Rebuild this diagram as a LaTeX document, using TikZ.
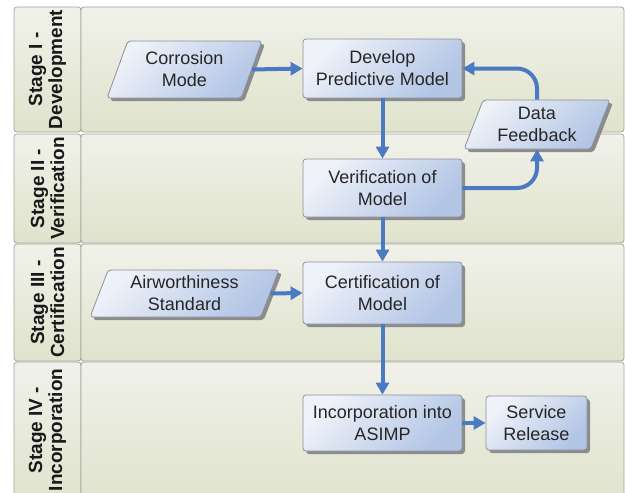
\documentclass[tikz,border=0pt]{standalone}
\usepackage{fontspec}
\setmainfont{Liberation Sans}
\usetikzlibrary{shapes.geometric,shadows,arrows.meta}
\definecolor{flow}{HTML}{4A7AC2}
\definecolor{boxlt}{HTML}{EFF2F9}
\definecolor{boxdk}{HTML}{B2C5E5}
\definecolor{boxedge}{HTML}{8C9098}
\definecolor{lanelt}{HTML}{F1F1EA}
\definecolor{lanedk}{HTML}{DFE3CC}
\definecolor{laneedge}{HTML}{A2A49E}
\begin{document}
\begin{tikzpicture}[x=1pt,y=-1pt,
  proc/.style={draw=boxedge, line width=0.8pt, rounded corners=3pt,
    top color=boxlt, bottom color=boxdk, shading angle=45,
    drop shadow={shadow xshift=3pt, shadow yshift=-3pt, fill=black!45, opacity=1},
    align=center, font=\fontsize{18}{22}\selectfont, text=black!85, inner sep=0pt},
  datan/.style={proc, shape=trapezium, trapezium stretches=true,
    trapezium left angle=68, trapezium right angle=112},
  lane/.style={draw=laneedge, line width=0.8pt, rounded corners=3pt,
    top color=lanelt, bottom color=lanedk},
  lanelabel/.style={rotate=90, align=center, font=\fontsize{19}{20}\selectfont\bfseries, text=black!90},
  flowarrow/.style={draw=flow, line width=4pt, -{Triangle[length=12pt,width=13pt]}}]
\useasboundingbox (0,0) rectangle (625,493);
\clip (0,0) rectangle (625,493);
% swim lanes
\foreach \t/\b in {7/132,134/243,244/361,362/505}{
  \path[lane] (14,\t) rectangle (81,\b);
  \path[lane] (81,\t) rectangle (624,\b);
}
\node[lanelabel] (l1) at (47.5,69.5) {Stage I -\\Development};
\node[lanelabel] (l2) at (47.5,188.5) {Stage II -\\Verification};
\node[lanelabel] (l3) at (47.5,302.5) {Stage III -\\Certification};
\node[lanelabel] (l4) at (47.5,430) {Stage IV -\\Incorporation};
% process boxes
\node[proc, minimum width=159pt, minimum height=59pt] (dev) at (382.5,68.5) {Develop\\Predictive Model};
\node[proc, minimum width=159pt, minimum height=58pt] (ver) at (382.5,188) {Verification of\\Model};
\node[proc, minimum width=159pt, minimum height=62pt] (cer) at (382.5,293) {Certification of\\Model};
\node[proc, minimum width=159pt, minimum height=56pt] (inc) at (382.5,423) {Incorporation into\\ASIMP};
\node[proc, minimum width=101pt, minimum height=54pt] (ser) at (536.5,423) {Service\\Release};
% data boxes
\node[datan, minimum width=155pt, minimum height=57pt] (cm) at (184.5,69.5) {Corrosion\\Mode};
\node[datan, minimum width=146pt, minimum height=49pt] (df) at (537,124.5) {Data\\Feedback};
\node[datan, minimum width=189pt, minimum height=47pt, trapezium left angle=70, trapezium right angle=110] (aw) at (184.5,293.5) {Airworthiness\\Standard};
% connectors
\draw[flowarrow] (cm.east) -- (dev.west);
\draw[flowarrow] (dev) -- (ver);
\draw[flowarrow, rounded corners=20pt] (ver.east) -| (df.south);
\draw[flowarrow, rounded corners=20pt] (df.north) |- (dev.east);
\draw[flowarrow] (ver) -- (cer);
\draw[flowarrow] (aw.east) -- (cer.west);
\draw[flowarrow] (cer) -- (inc);
\draw[flowarrow] (inc) -- (ser);
\end{tikzpicture}
\end{document}
